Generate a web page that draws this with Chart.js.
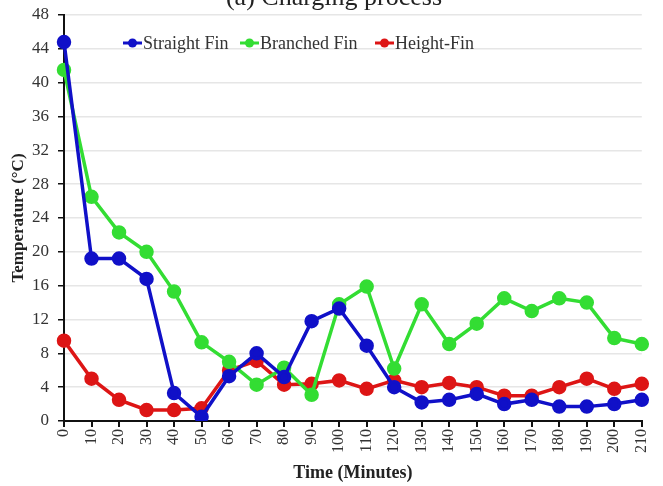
<!DOCTYPE html>
<html>
<head>
<meta charset="utf-8">
<script src="https://cdn.jsdelivr.net/npm/chart.js@4.4.1/dist/chart.umd.min.js"></script>
<style>
  html, body { margin: 0; padding: 0; background: #fff; }
  #wrap { width: 663px; height: 486px; position: relative; }
</style>
</head>
<body>
<div id="wrap"><canvas id="tempChart"></canvas></div>
<script>
const minutes = [0,10,20,30,40,50,60,70,80,90,100,110,120,130,140,150,160,170,180,190,200,210]

const straightFin = [44.8,19.2,19.2,16.8,3.3,0.5,5.3,8.0,5.2,11.8,13.3,8.9,4.0,2.2,2.5,3.2,2.0,2.5,1.7,1.7,2.0,2.5]
const branchedFin = [41.5,26.5,22.3,20.0,15.3,9.3,7.0,4.3,6.3,3.1,13.8,15.9,6.2,13.8,9.1,11.5,14.5,13.0,14.5,14.0,9.8,9.1]
const heightFin = [9.5,5.0,2.5,1.3,1.3,1.5,6.0,7.1,4.3,4.4,4.8,3.8,4.8,4.0,4.5,4.0,3.0,3.0,4.0,5.0,3.8,4.4]

const seriesNames = ["Straight Fin","Branched Fin","Height-Fin"]
const seriesColors = ["#1010c8","#33dd33","#dd1515"]

const serif = "'Liberation Serif', 'Times New Roman', serif"

// title (cut off at the top) and legend inside the plot
const extras = {
  id: "extras",
  afterDraw(chart) {
    const ctx = chart.ctx
    ctx.save()
    ctx.fillStyle = "#222"
    ctx.font = "26px " + serif
    ctx.textAlign = "center"
    ctx.textBaseline = "alphabetic"
    ctx.fillText("(a) Charging process", 334, 5)

    const xs = [123, 240, 375]
    const y = 43
    ctx.font = "18px " + serif
    ctx.textAlign = "left"
    ctx.textBaseline = "middle"
    chart.data.datasets.forEach((ds, i) => {
      const x = xs[i]
      ctx.strokeStyle = ds.borderColor
      ctx.lineWidth = 3
      ctx.beginPath()
      ctx.moveTo(x, y)
      ctx.lineTo(x + 19, y)
      ctx.stroke()
      ctx.fillStyle = ds.borderColor
      ctx.beginPath()
      ctx.arc(x + 9.5, y, 4.5, 0, Math.PI * 2)
      ctx.fill()
      ctx.fillStyle = "#333"
      ctx.fillText(ds.label, x + 20, y + 1)
    })
    ctx.restore()
  }
}

const chart = new Chart(document.querySelector("#tempChart"), {
  type: "line",
  data: {
    labels: minutes,
    datasets: [
      {label: seriesNames[0], data: straightFin, borderColor: seriesColors[0], backgroundColor: seriesColors[0]},
      {label: seriesNames[1], data: branchedFin, borderColor: seriesColors[1], backgroundColor: seriesColors[1]},
      {label: seriesNames[2], data: heightFin, borderColor: seriesColors[2], backgroundColor: seriesColors[2]}
    ].map(d => Object.assign(d, {borderWidth: 3.5, pointRadius: 5.5, pointHoverRadius: 5.5, tension: 0}))
  },
  options: {
    responsive: true,
    maintainAspectRatio: false,
    animation: false,
    layout: {padding: {top: 15, right: 12, left: 0, bottom: 0}},
    plugins: {
      legend: {display: false},
      tooltip: {enabled: false}
    },
    scales: {
      x: {
        offset: false,
        afterFit: s => { s.height = 65 },
        grid: {drawOnChartArea: false, tickColor: "#111", tickLength: 6, lineWidth: 2},
        border: {color: "#111", width: 2},
        ticks: {
          minRotation: 90, maxRotation: 90, padding: 2,
          color: "#333", font: {family: serif, size: 16}
        },
        title: {
          display: true, text: "Time (Minutes)", color: "#222",
          font: {family: serif, size: 18, weight: "bold"}, padding: {top: 0, bottom: 2}
        }
      },
      y: {
        min: 0, max: 48,
        afterFit: s => { s.width = 64; s.paddingTop = 0; s.paddingBottom = 0 },
        ticks: {stepSize: 4, color: "#333", padding: 9, font: {family: serif, size: 17}},
        grid: {color: "#e6e6e6", lineWidth: 1.5, tickColor: "#111", tickLength: 6},
        border: {color: "#111", width: 2},
        title: {
          display: true, text: "Temperature (°C)", color: "#222",
          font: {family: serif, size: 17, weight: "bold"}, padding: {top: 8, bottom: 0}
        }
      }
    }
  },
  plugins: [extras]
})
</script>
</body>
</html>
